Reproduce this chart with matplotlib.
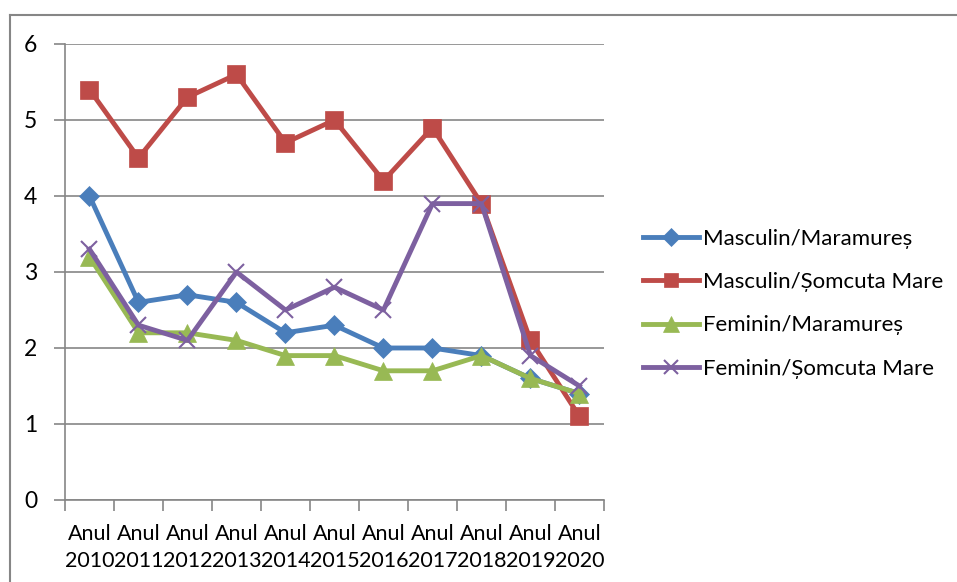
import matplotlib.pyplot as plt
from matplotlib.lines import Line2D

plt.rcParams['font.family'] = ['Lato', 'DejaVu Sans']

# date
ani = ["Anul\n2010", "Anul\n2011", "Anul\n2012", "Anul\n2013", "Anul\n2014", "Anul\n2015",
       "Anul\n2016", "Anul\n2017", "Anul\n2018", "Anul\n2019", "Anul\n2020"]
masc_mm = [4.0, 2.6, 2.7, 2.6, 2.2, 2.3, 2.0, 2.0, 1.9, 1.6, 1.4]
masc_sm = [5.4, 4.5, 5.3, 5.6, 4.7, 5.0, 4.2, 4.9, 3.9, 2.1, 1.1]
fem_mm = [3.2, 2.2, 2.2, 2.1, 1.9, 1.9, 1.7, 1.7, 1.9, 1.6, 1.4]
fem_sm = [3.3, 2.3, 2.1, 3.0, 2.5, 2.8, 2.5, 3.9, 3.9, 1.9, 1.5]

serii = [
    ("Masculin/Maramureș", masc_mm, '#4A7EBB', 'D', 10.5),
    ("Masculin/Șomcuta Mare", masc_sm, '#BE4B48', 's', 12.5),
    ("Feminin/Maramureș", fem_mm, '#98B954', '^', 13),
    ("Feminin/Șomcuta Mare", fem_sm, '#7D60A0', 'x', 12),
]

fig = plt.figure(figsize=(9.57, 5.82), dpi=100)
ax = fig.add_axes([0.0679, 0.1409, 0.5632, 0.7835])

x = list(range(len(ani)))
for nume, val, cul, mk, ms in serii:
    ax.plot(x, val, color=cul, linewidth=3.5, marker=mk, markersize=ms,
            markeredgewidth=1.5 if mk == 'x' else 0.5, label=nume, zorder=3)

ax.set_xlim(-0.5, len(ani) - 0.5)
ax.set_ylim(0, 6)
ax.set_yticks(range(0, 7))

# taieturi intre categorii, etichete in centru
ax.set_xticks([i - 0.5 for i in range(len(ani) + 1)])
ax.set_xticklabels([])
ax.set_xticks(x, minor=True)
ax.set_xticklabels(ani, minor=True, fontsize=15.5, linespacing=1.45)
ax.tick_params(axis='x', which='major', length=8, width=1.2, color='#868686', direction='out')
ax.tick_params(axis='x', which='minor', length=0, pad=17)
ax.tick_params(axis='y', length=8, width=1.2, color='#868686', labelsize=16.5, pad=12)

ax.grid(axis='y', color='#868686', linewidth=1.2)
ax.set_axisbelow(True)
for s in ['top', 'right']:
    ax.spines[s].set_visible(False)
for s in ['left', 'bottom']:
    ax.spines[s].set_color('#868686')
    ax.spines[s].set_linewidth(1.2)

leg = ax.legend(loc='center left', bbox_to_anchor=(0.672, 0.478), bbox_transform=fig.transFigure,
                frameon=False, fontsize=16, handlelength=2.5, handletextpad=0.2,
                labelspacing=1.05, borderpad=0, borderaxespad=0)
for h in leg.legend_handles:
    h.set_markersize(h.get_markersize() * 0.85)

# chenarul graficului
fig.add_artist(Line2D([10 / 957, 1], [1 - 15 / 582, 1 - 15 / 582], transform=fig.transFigure,
                      color='#868686', linewidth=1.5))
fig.add_artist(Line2D([10 / 957, 10 / 957], [0, 1 - 15 / 582], transform=fig.transFigure,
                      color='#868686', linewidth=1.5))

plt.savefig('out.png', dpi=100)
